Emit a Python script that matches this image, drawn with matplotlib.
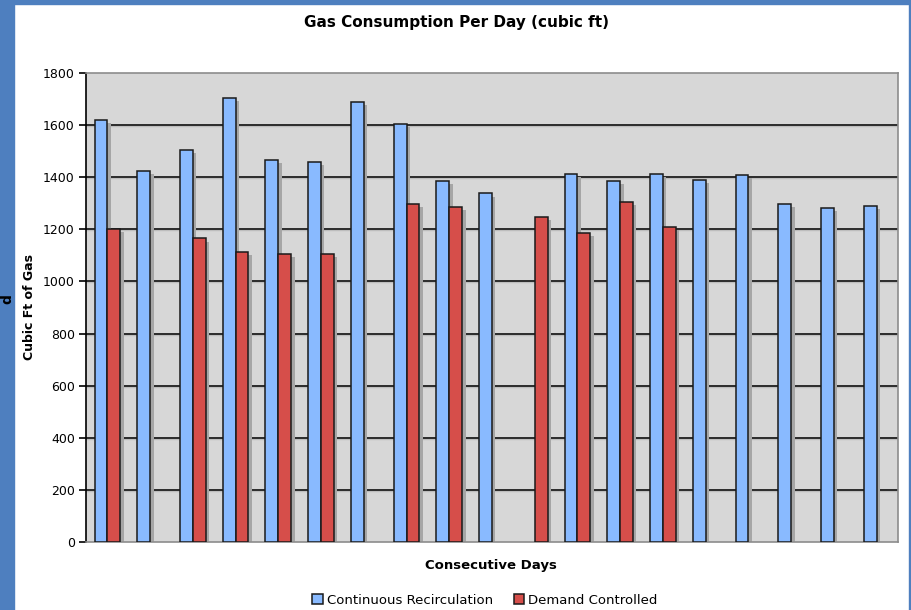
"""Gas consumption per day: continuous recirculation vs demand controlled."""
import numpy as np
import matplotlib.pyplot as plt
from matplotlib.patches import Rectangle

# Consecutive days (19 slots); None = no reading for that day
continuous = [1620, 1425, 1505, 1703, 1465, 1458, 1688, 1605, 1385, 1338,
              None, 1413, 1385, 1413, 1390, 1410, 1298, 1282, 1290]
demand = [1200, None, 1165, 1113, 1105, 1105, None, 1297, 1286, None,
          1246, 1186, 1305, 1210, None, None, None, None, None]

BLUE = "#89BAFF"
RED = "#D64E4A"
SHADOW = "#A6A6A6"
PLOT_BG = "#D7D7D7"
BORDER = "#4E7FBF"

BAR_W = 0.3


def draw_series(ax, x, values, color, label):
    xs = np.array([xi for xi, v in zip(x, values) if v is not None])
    vs = np.array([v for v in values if v is not None], dtype=float)
    # drop shadow, shifted a few pixels right and down
    ax.bar(xs + 0.08, vs - 12, width=BAR_W, align="edge", color=SHADOW,
           linewidth=0, zorder=2)
    ax.bar(xs, vs, width=BAR_W, align="edge", color=color, edgecolor="#1a1a1a",
           linewidth=1.1, zorder=3, label=label)


def main():
    fig = plt.figure(figsize=(9.11, 6.10), dpi=100)

    # blue page border around the slide
    for rect in [(0, 0, 14 / 911, 1), (0, 1 - 4 / 610, 1, 4 / 610),
                 (1 - 2 / 911, 0, 2 / 911, 1)]:
        fig.patches.append(Rectangle(rect[:2], rect[2], rect[3],
                                     transform=fig.transFigure,
                                     color=BORDER, zorder=0))
    fig.text(0.0, 0.51, "d", rotation=90, fontsize=10, fontweight="bold",
             ha="left", va="center", color="black")

    ax = fig.add_axes([86 / 911, 1 - 542 / 610, 812 / 911, 469 / 610])
    ax.set_facecolor(PLOT_BG)

    n = len(continuous)
    groups = np.arange(n)
    draw_series(ax, groups + 0.5 - BAR_W, continuous, BLUE,
                "Continuous Recirculation")
    draw_series(ax, groups + 0.5, demand, RED, "Demand Controlled")

    ax.set_xlim(0, n)
    ax.set_ylim(0, 1800)
    ax.set_yticks(range(0, 1801, 200))
    ax.set_xticks([])
    for y in range(200, 1800, 200):
        ax.axhline(y, color="#2b2b2b", linewidth=1.4, zorder=1)
        ax.axhline(y - 4, color="#bdbdbd", linewidth=1.0, zorder=0.9)
    ax.tick_params(axis="y", direction="out", length=5, width=1.2,
                   labelsize=9, pad=3, colors="black")

    ax.spines["left"].set_color("black")
    ax.spines["left"].set_linewidth(1.2)
    for side in ("top", "right", "bottom"):
        ax.spines[side].set_color("#8c8c8c")
        ax.spines[side].set_linewidth(1.2)

    fig.text(457 / 911, 1 - 22 / 610, "Gas Consumption Per Day (cubic ft)",
             ha="center", va="center", fontsize=11, fontweight="bold")
    ax.set_ylabel("Cubic Ft of Gas", fontsize=9, fontweight="bold", labelpad=5)
    fig.text(491 / 911, 1 - 565 / 610, "Consecutive Days",
             ha="center", va="center", fontsize=9.5, fontweight="bold")

    fig.legend(loc="center", bbox_to_anchor=(485 / 911, 1 - 600 / 610),
               ncol=2, frameon=False, fontsize=9.5, handlelength=0.8,
               handleheight=0.8, handletextpad=0.3, columnspacing=1.6,
               borderaxespad=0)

    fig.savefig("out.png", dpi=100)


if __name__ == "__main__":
    main()
